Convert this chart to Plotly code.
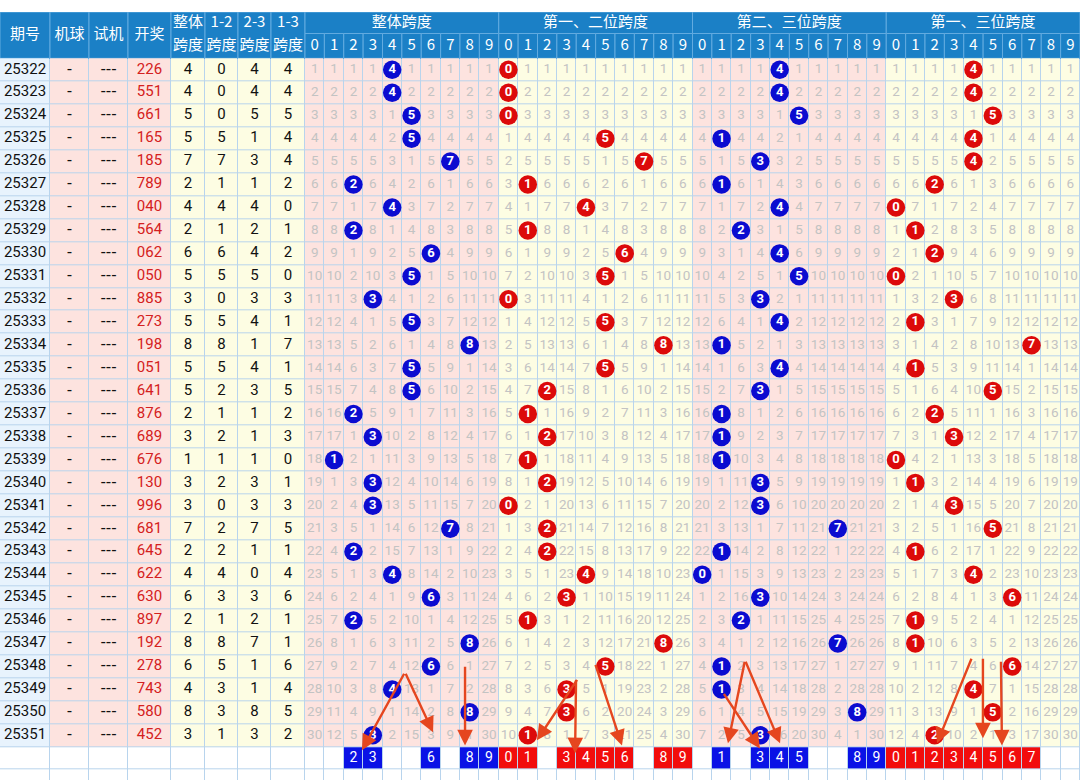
import plotly.graph_objects as go

# ---------------- data ----------------
periods = ["25322", "25323", "25324", "25325", "25326", "25327", "25328", "25329", "25330", "25331",
           "25332", "25333", "25334", "25335", "25336", "25337", "25338", "25339", "25340", "25341",
           "25342", "25343", "25344", "25345", "25346", "25347", "25348", "25349", "25350", "25351"]
jiqiu = ["-"] * 30
shiji = ["---"] * 30
draws = ["226", "551", "661", "165", "185", "789", "040", "564", "062", "050",
         "885", "273", "198", "051", "641", "876", "689", "676", "130", "996",
         "681", "645", "622", "630", "897", "192", "278", "743", "580", "452"]
span_all = [4, 4, 5, 5, 7, 2, 4, 2, 6, 5, 3, 5, 8, 5, 5, 2, 3, 1, 3, 3, 7, 2, 4, 6, 2, 8, 6, 4, 8, 3]
span_12 = [0, 0, 0, 5, 7, 1, 4, 1, 6, 5, 0, 5, 8, 5, 2, 1, 2, 1, 2, 0, 2, 2, 4, 3, 1, 8, 5, 3, 3, 1]
span_23 = [4, 4, 5, 1, 3, 1, 4, 2, 4, 5, 3, 4, 1, 4, 3, 1, 1, 1, 3, 3, 7, 1, 0, 3, 2, 7, 1, 1, 8, 3]
span_13 = [4, 4, 5, 4, 4, 2, 0, 1, 2, 0, 3, 1, 7, 1, 5, 2, 3, 0, 1, 3, 5, 1, 4, 6, 1, 1, 6, 4, 5, 2]

left_headers = [["期号"], ["机球"], ["试机"], ["开奖"], ["整体", "跨度"], ["1-2", "跨度"], ["2-3", "跨度"], ["1-3", "跨度"]]
group_titles = ["整体跨度", "第一、二位跨度", "第二、三位跨度", "第一、三位跨度"]
digit_labels = ["0", "1", "2", "3", "4", "5", "6", "7", "8", "9"]
group_spans = [span_all, span_12, span_23, span_13]
pred_digits = [[2, 3, 6, 8, 9], [0, 1, 3, 4, 5, 6, 8, 9], [1, 3, 4, 5, 8, 9], [0, 1, 2, 3, 4, 5, 6, 7]]

# hand-drawn arrows: (start col, start row, end col, end row) in digit-grid units
arrows = [
    (5.16, 26.75, 2.94, 30.15), (5.16, 26.75, 6.61, 29.37), (8.26, 26.45, 8.26, 29.94),
    (14.09, 27.02, 11.97, 29.72), (13.99, 27.02, 13.94, 30.28), (14.97, 26.36, 16.36, 29.94),
    (22.71, 26.23, 21.83, 29.85), (22.71, 26.23, 24.52, 29.85), (21.57, 27.63, 23.48, 30.07),
    (34.43, 26.10, 32.62, 29.85), (34.99, 26.10, 34.99, 29.63), (35.92, 26.23, 35.97, 29.94),
]

# ---------------- layout / style ----------------
W, H = 1080, 780
TOP = 12.0
H1 = 33.5          # bottom of header row 1
H2 = 58.3          # bottom of header row 2
ROW_H = 22.95
LEFT_EDGES = [0, 50, 89, 128, 171, 205, 238, 271, 305]
DX0 = 305.0
DW = (W - DX0) / 40.0
NROW = len(periods)

FONT = "Roboto, 'Noto Sans CJK SC', sans-serif"
CJK = "'Noto Sans CJK SC', Roboto, sans-serif"
DASH_FONT = "'DejaVu Sans', sans-serif"
C_GRID = "#b8d4ed"
C_WHITE = "#ffffff"
C_PERIOD = "#e8f3fd"
C_PINK = "#fde3df"
C_YELLOW = "#fdfde3"
C_HEAD = "#1b80c6"
C_HEAD_LINE = "#62abe0"
C_PBLUE = "#0a12e6"
C_PRED = "#f20c0c"
C_BLUE = "#0b0bd0"
C_RED = "#dc0a0a"
C_OMIT = "#c3c3c3"
C_DRAW = "#d42020"
C_ARROW = "#e5461f"

group_bg = [2, 3, 2, 3]          # codes
group_dot = [C_BLUE, C_RED, C_BLUE, C_RED]
pred_code = [5, 6, 5, 6]

x_edges = LEFT_EDGES + [DX0 + DW * (k + 1) for k in range(40)]
row_edges = [H2 + ROW_H * i for i in range(NROW + 3)]   # data rows + pred row + blank row


def dcx(col):
    return DX0 + DW * (col + 0.5)


def rcy(row):
    return H2 + ROW_H * (row + 0.5)


left_cx = [(LEFT_EDGES[i] + LEFT_EDGES[i + 1]) / 2 for i in range(8)]

# background heatmap codes
z = []
for r in range(NROW + 2):
    row = []
    for c in range(48):
        if r < NROW:
            if c == 0:
                code = 1
            elif c < 4:
                code = 2
            elif c < 8:
                code = 3
            else:
                code = group_bg[(c - 8) // 10]
        elif r == NROW:
            code = 0
            if c >= 8:
                g, d = divmod(c - 8, 10)
                if d in pred_digits[g]:
                    code = pred_code[g]
        else:
            code = 0
        row.append(code)
    z.append(row)

cols = [C_WHITE, C_PERIOD, C_PINK, C_YELLOW, C_HEAD, C_PBLUE, C_PRED]
colorscale = [[i / 6, c] for i, c in enumerate(cols)]

fig = go.Figure()
fig.add_trace(go.Heatmap(z=z, x=x_edges, y=row_edges, zmin=0, zmax=6, colorscale=colorscale,
                         showscale=False, xgap=1, ygap=1, hoverinfo="skip"))

# left table text
left_cols = [periods, jiqiu, shiji, draws, span_all, span_12, span_23, span_13]
for i, vals in enumerate(left_cols):
    fig.add_trace(go.Scatter(
        x=[left_cx[i]] * NROW, y=[rcy(r) for r in range(NROW)], mode="text",
        text=[str(v) for v in vals],
        textfont=dict(family=DASH_FONT if i in (1, 2) else FONT, size=15,
                      color=C_DRAW if i == 3 else "#111111"),
        hoverinfo="skip", showlegend=False))

# omission counts and hits
for g, spans in enumerate(group_spans):
    ox, oy, ot, hx, hy, ht = [], [], [], [], [], []
    last = [-1] * 10
    for r, v in enumerate(spans):
        for d in range(10):
            col = g * 10 + d
            if d == v:
                hx.append(dcx(col)); hy.append(rcy(r)); ht.append(str(d))
                last[d] = r
            else:
                ox.append(dcx(col)); oy.append(rcy(r)); ot.append(str(r - last[d]))
    fig.add_trace(go.Scatter(x=ox, y=oy, mode="text", text=ot,
                             textfont=dict(family=FONT, size=13.5, color=C_OMIT),
                             hoverinfo="skip", showlegend=False))
    fig.add_trace(go.Scatter(x=hx, y=hy, mode="markers+text", text=ht,
                             marker=dict(size=18.5, color=group_dot[g], line=dict(width=0)),
                             textposition="middle center",
                             textfont=dict(family=FONT, size=13, color="white", weight="bold"),
                             hoverinfo="skip", showlegend=False))
    # prediction row text
    fig.add_trace(go.Scatter(x=[dcx(g * 10 + d) for d in pred_digits[g]],
                             y=[rcy(NROW)] * len(pred_digits[g]), mode="text",
                             text=[str(d) for d in pred_digits[g]],
                             textfont=dict(family=FONT, size=14, color="white"),
                             hoverinfo="skip", showlegend=False))

# header
shapes = []


def head_rect(x0, x1, y0, y1):
    shapes.append(dict(type="rect", xref="x", yref="y", x0=x0, x1=x1, y0=y0, y1=y1,
                       fillcolor=C_HEAD, line=dict(color=C_HEAD_LINE, width=1), layer="below"))


hx, hy, ht = [], [], []
for i, lab in enumerate(left_headers):
    head_rect(LEFT_EDGES[i], LEFT_EDGES[i + 1], TOP, H2)
    if len(lab) == 1:
        hx.append(left_cx[i]); hy.append((TOP + H2) / 2); ht.append(lab[0])
    else:
        hx += [left_cx[i], left_cx[i]]
        hy += [(TOP + H1) / 2 + 0.5, (H1 + H2) / 2 + 0.5]
        ht += lab
for g, title in enumerate(group_titles):
    head_rect(DX0 + g * 10 * DW, DX0 + (g + 1) * 10 * DW, TOP, H1)
    hx.append(DX0 + (g * 10 + 5) * DW); hy.append((TOP + H1) / 2); ht.append(title)
    for d in range(10):
        col = g * 10 + d
        head_rect(DX0 + col * DW, DX0 + (col + 1) * DW, H1, H2)
        hx.append(dcx(col)); hy.append((H1 + H2) / 2); ht.append(digit_labels[d])
fig.add_trace(go.Scatter(x=hx, y=hy, mode="text", text=ht,
                         textfont=dict(family=CJK, size=15, color="white"),
                         hoverinfo="skip", showlegend=False))

# arrows
annotations = []
for sc, sr, ec, er in arrows:
    annotations.append(dict(
        x=DX0 + ec * DW, y=H2 + er * ROW_H, ax=DX0 + sc * DW, ay=H2 + sr * ROW_H,
        xref="x", yref="y", axref="x", ayref="y", text="", showarrow=True,
        arrowhead=2, arrowsize=1.3, arrowwidth=2.4, arrowcolor=C_ARROW, standoff=0))

fig.update_layout(
    width=W, height=H, margin=dict(l=0, r=0, t=TOP, b=0, pad=0),
    paper_bgcolor="white", plot_bgcolor=C_GRID,
    xaxis=dict(range=[0, W], visible=False, fixedrange=True),
    yaxis=dict(range=[H, TOP], visible=False, fixedrange=True),
    shapes=shapes, annotations=annotations, showlegend=False,
)

fig.write_html("out.html", config={"displayModeBar": False, "staticPlot": True},
               post_script="document.body.style.margin='0';document.body.style.overflow='hidden';")
